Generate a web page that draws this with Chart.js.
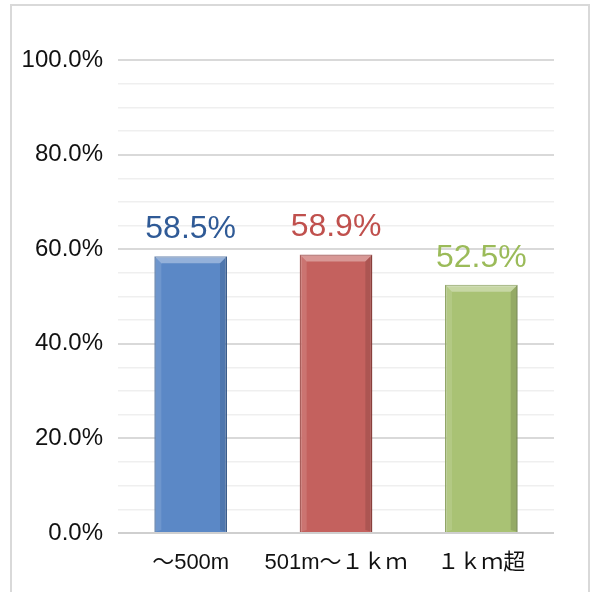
<!DOCTYPE html>
<html>
<head>
<meta charset="utf-8">
<script src="https://cdn.jsdelivr.net/npm/chart.js@4"></script>
<style>
  html, body { margin: 0; padding: 0; background: #fff; }
  #wrap { position: relative; width: 595px; height: 592px; overflow: hidden; }
  #frame { position: absolute; left: 10px; top: 4px; width: 580px; height: 600px;
           border: 2px solid #d9d9d9; box-sizing: border-box; }
  canvas { position: absolute; left: 0; top: 0; }
</style>
</head>
<body>
<div id="wrap">
  <div id="frame"></div>
  <canvas id="distance-chart" width="595" height="592"></canvas>
</div>
<script>
// ---------------------------------------------------------------------------------------
// data

var categories = ["～500m", "501m～１ｋｍ", "１ｋｍ超"];
var values = [58.5, 58.9, 52.5];
var barcolors = ["#5b88c6", "#c4615e", "#a9c274"];
var bordercolors = ["#44699c", "#9c4845", "#829a52"];
var labelcolors = ["#2f5a96", "#c0504d", "#9bbb59"];

var fontfamily = "'Liberation Sans', 'Noto Sans CJK JP', sans-serif";

// bevel look on the bars
var bevel = {
  id: 'bevel',
  afterDatasetsDraw: function(chart) {
    var ctx = chart.ctx;
    var meta = chart.getDatasetMeta(0);
    var b = 7;
    ctx.save();
    meta.data.forEach(function(bar) {
      var l = bar.x - bar.width / 2, r = bar.x + bar.width / 2;
      var t = bar.y, bt = bar.base;
      // top
      ctx.fillStyle = "rgba(255,255,255,0.35)";
      ctx.beginPath();
      ctx.moveTo(l, t); ctx.lineTo(r, t); ctx.lineTo(r - b, t + b); ctx.lineTo(l + b, t + b);
      ctx.closePath(); ctx.fill();
      // left
      ctx.fillStyle = "rgba(255,255,255,0.12)";
      ctx.beginPath();
      ctx.moveTo(l, t); ctx.lineTo(l + b, t + b); ctx.lineTo(l + b, bt - 2); ctx.lineTo(l, bt);
      ctx.closePath(); ctx.fill();
      // right
      ctx.fillStyle = "rgba(0,0,0,0.12)";
      ctx.beginPath();
      ctx.moveTo(r, t); ctx.lineTo(r - b, t + b); ctx.lineTo(r - b, bt - 2); ctx.lineTo(r, bt);
      ctx.closePath(); ctx.fill();
    });
    ctx.restore();
  }
};

// value labels over the bars
var valuelabels = {
  id: 'valuelabels',
  afterDatasetsDraw: function(chart) {
    var ctx = chart.ctx;
    var meta = chart.getDatasetMeta(0);
    ctx.save();
    ctx.font = "32px " + fontfamily;
    ctx.textAlign = 'center';
    ctx.textBaseline = 'alphabetic';
    meta.data.forEach(function(bar, i) {
      ctx.fillStyle = labelcolors[i];
      ctx.fillText(values[i].toFixed(1) + "%", bar.x, bar.y - 18);
    });
    ctx.restore();
  }
};

new Chart(document.getElementById("distance-chart"), {
    type: 'bar',
    data: {
      labels: categories,
      datasets: [
        {
          label: "割合",
          backgroundColor: barcolors,
          borderColor: bordercolors,
          borderWidth: 1.5,
          barPercentage: 0.5,
          categoryPercentage: 1.0,
          data: values
        }
      ]
    },
    options: {
      responsive: false,
      animation: false,
      layout: {padding: {left: 0, right: 41, top: 60, bottom: 0}},
      scales: {
        x: {
          grid: {display: false},
          border: {display: false},
          ticks: {
            font: {size: 22, family: fontfamily},
            color: "#111",
            padding: 9,
            autoSkip: false,
            maxRotation: 0,
            minRotation: 0
          },
          afterFit: function(axis) { axis.height = 59; }
        },
        y: {
          min: 0,
          max: 100,
          border: {display: false},
          grid: {
            color: function(c) {
              if (c.tick.value === 0) return "#cfcfcf";
              return c.tick.value % 20 === 0 ? "#d9d9d9" : "#efefef";
            },
            lineWidth: function(c) { return c.tick.value % 20 === 0 ? 2 : 1.5; },
            drawTicks: false
          },
          ticks: {
            stepSize: 5,
            autoSkip: false,
            padding: 15,
            color: "#111",
            font: {size: 24, family: fontfamily},
            callback: function(v) { return v % 20 === 0 ? v.toFixed(1) + "%" : ""; }
          },
          afterFit: function(axis) { axis.width = 118; }
        }
      },
      plugins: {
        legend: {display: false},
        tooltip: {enabled: false}
      }
    },
    plugins: [bevel, valuelabels]
});
</script>
</body>
</html>
